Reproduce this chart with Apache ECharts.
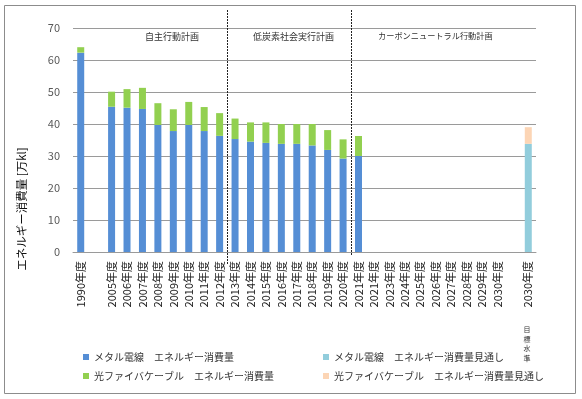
<!DOCTYPE html>
<html>
<head>
<meta charset="utf-8">
<script src="https://cdn.jsdelivr.net/npm/echarts@6/dist/echarts.min.js"></script>
<style>
  html, body { margin: 0; padding: 0; background: #fff; }
  #container { width: 582px; height: 399px; }
</style>
</head>
<body>
<div id="container"></div>
<script>
var dom = document.getElementById("container");
var myChart = echarts.init(dom);

// categories (2021年度 appears twice in the source chart)
var years = ['1990年度', '', '2005年度', '2006年度', '2007年度', '2008年度', '2009年度', '2010年度',
  '2011年度', '2012年度', '2013年度', '2014年度', '2015年度', '2016年度', '2017年度', '2018年度',
  '2019年度', '2020年度', '2021年度', '2021年度', '2023年度', '2024年度', '2025年度', '2026年度',
  '2027年度', '2028年度', '2029年度', '2030年度', '', '2030年度'];

// 万kl
var metal = [62.3, null, 45.4, 45.1, 44.7, 39.7, 37.8, 39.7, 37.8, 36.3, 35.3, 34.5, 34.1, 33.8, 33.8, 33.3,
  31.9, 29.2, 30.0, null, null, null, null, null, null, null, null, null, null, null];
var fiber = [1.7, null, 4.7, 5.8, 6.6, 6.8, 6.8, 7.2, 7.5, 7.1, 6.4, 6.0, 6.4, 6.2, 6.2, 6.7,
  6.2, 6.0, 6.25, null, null, null, null, null, null, null, null, null, null, null];
var metalPlan = [null, null, null, null, null, null, null, null, null, null, null, null, null, null, null, null,
  null, null, null, null, null, null, null, null, null, null, null, null, null, 33.8];
var fiberPlan = [null, null, null, null, null, null, null, null, null, null, null, null, null, null, null, null,
  null, null, null, null, null, null, null, null, null, null, null, null, null, 5.2];

var names = ['メタル電線　エネルギー消費量', '光ファイバケーブル　エネルギー消費量',
  'メタル電線　エネルギー消費量見通し', '光ファイバケーブル　エネルギー消費量見通し'];
var colors = ['#558ED5', '#92D050', '#92CDDC', '#FCD5B5'];
var font = "'Noto Sans CJK JP', sans-serif";

function bar(name, data, color) {
  return {
    type: 'bar',
    name: name,
    stack: 'total',
    barWidth: 7,
    itemStyle: { color: color },
    data: data
  };
}

var option = {
  animation: false,
  textStyle: { fontFamily: font },
  grid: { left: 73, right: 46, top: 28, bottom: 147 },
  legend: [{
    left: 78, top: 346, orient: 'vertical', itemGap: 7,
    itemWidth: 6, itemHeight: 6, icon: 'rect',
    textStyle: { fontSize: 10, color: '#333', fontFamily: font, lineHeight: 12 },
    data: [names[0], names[1]]
  }, {
    left: 318, top: 346, orient: 'vertical', itemGap: 7,
    itemWidth: 6, itemHeight: 6, icon: 'rect',
    textStyle: { fontSize: 10, color: '#333', fontFamily: font, lineHeight: 12 },
    data: [names[2], names[3]]
  }],
  xAxis: {
    type: 'category',
    data: years,
    axisLine: { lineStyle: { color: '#9a9a9a' } },
    axisTick: { show: false },
    axisLabel: { interval: 0, rotate: 90, fontSize: 11, color: '#222', margin: 9, fontFamily: font }
  },
  yAxis: {
    type: 'value',
    min: 0, max: 70, interval: 10,
    axisLine: { show: false },
    axisTick: { show: false },
    axisLabel: { fontSize: 11, color: '#595959', margin: 13 },
    splitLine: { lineStyle: { color: '#9a9a9a' } }
  },
  series: [
    bar(names[0], metal, colors[0]),
    bar(names[1], fiber, colors[1]),
    bar(names[2], metalPlan, colors[2]),
    bar(names[3], fiberPlan, colors[3])
  ]
};

myChart.setOption(option);

// dashed separators between plan periods, placed at category boundaries
function boundaryX(i) {
  var a = myChart.convertToPixel({ xAxisIndex: 0 }, i);
  var b = myChart.convertToPixel({ xAxisIndex: 0 }, i + 1);
  return Math.round((a + b) / 2) + 0.5;
}
var x1 = boundaryX(9);
var x2 = boundaryX(17);
var dash = { stroke: '#222', lineWidth: 1, lineDash: [2, 1] };

myChart.setOption({
  graphic: [
    { type: 'rect', shape: { x: 4.5, y: 5.5, width: 571, height: 388 }, style: { fill: null, stroke: '#8c8c8c', lineWidth: 1 }, z: -1 },
    { type: 'line', shape: { x1: x1, y1: 10, x2: x1, y2: 265 }, style: dash },
    { type: 'line', shape: { x1: x2, y1: 10, x2: x2, y2: 255 }, style: dash },
    { type: 'text', left: 145, top: 32, style: { text: '自主行動計画', fontSize: 9, fill: '#333', fontFamily: font } },
    { type: 'text', left: 253, top: 32, style: { text: '低炭素社会実行計画', fontSize: 9, fill: '#333', fontFamily: font } },
    { type: 'text', left: 378, top: 32, style: { text: 'カーボンニュートラル行動計画', fontSize: 8.2, fill: '#333', fontFamily: font } },
    { type: 'text', x: 22, y: 209, rotation: Math.PI / 2, style: { text: 'エネルギー消費量 [万kl]', fontSize: 11.5, fill: '#111', fontFamily: font, align: 'center', verticalAlign: 'middle' } },
    { type: 'text', x: 527, y: 325, style: { text: '目\n標\n水\n準', fontSize: 7, lineHeight: 9.5, fill: '#333', fontFamily: font, align: 'center' } }
  ]
});
</script>
</body>
</html>
